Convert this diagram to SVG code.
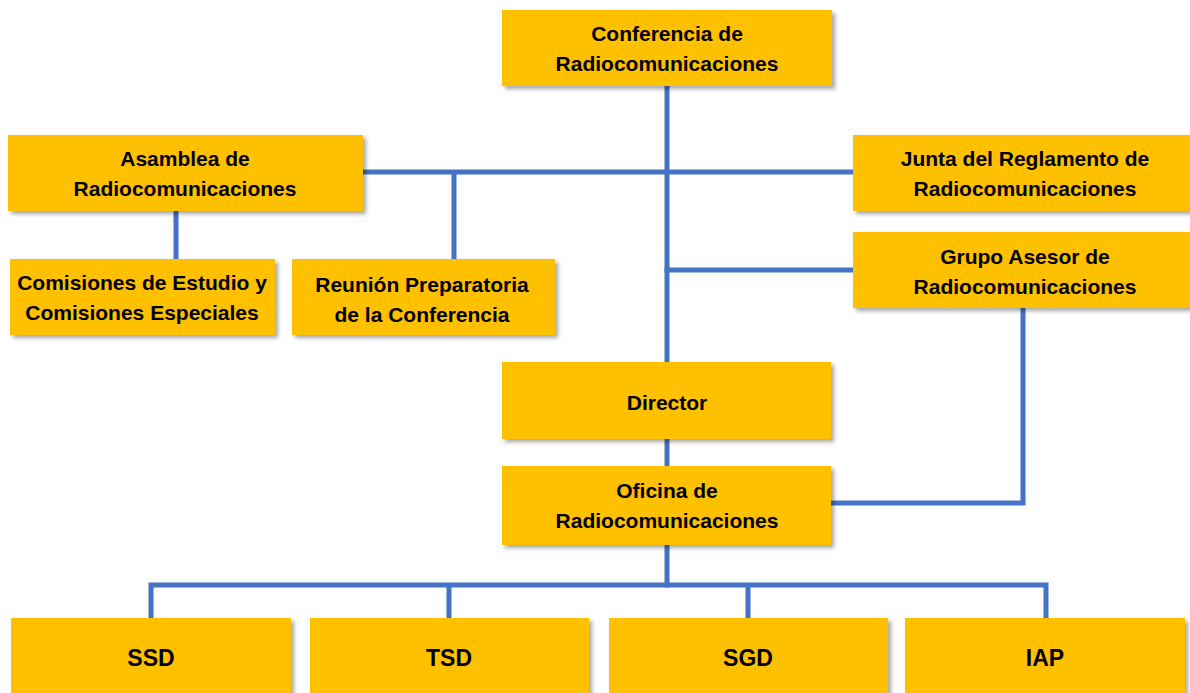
<svg xmlns="http://www.w3.org/2000/svg" width="1190" height="693" viewBox="0 0 1190 693">
<style>
.box{fill:#FFC000;filter:url(#sh)}
.t{font-family:"Liberation Sans",Arial,sans-serif;font-weight:bold;font-size:21px;fill:#000;text-anchor:middle}
.b{font-size:23px}
.c{stroke:#4472C4;stroke-width:5;fill:none;stroke-linecap:square}
</style>
<defs>
<filter id="sh" x="-5%" y="-10%" width="115%" height="130%">
<feDropShadow dx="3" dy="3" stdDeviation="2" flood-color="#000" flood-opacity="0.35"/>
</filter>
</defs>
<rect width="1190" height="693" fill="#fff"/>
<g id="connectors">
<path class="c" d="M667 86V362M667 439V466M667 545V585"/>
<path class="c" d="M363 172H853M454 172V259M176 211V259"/>
<path class="c" d="M667 270H853"/>
<path class="c" d="M1023 308V503H831"/>
<path class="c" d="M151 617V585H1046V617M449 585V617M748 585V617"/>
</g>
<g id="conferencia"><rect class="box" x="502" y="10" width="330" height="76"/>
<text class="t" x="667" y="41">Conferencia de</text><text class="t" x="667" y="71">Radiocomunicaciones</text></g>
<g id="asamblea"><rect class="box" x="8" y="135" width="355" height="76"/>
<text class="t" x="185" y="166">Asamblea de</text><text class="t" x="185" y="196">Radiocomunicaciones</text></g>
<g id="comisiones"><rect class="box" x="10" y="259" width="265" height="76"/>
<text class="t" x="142" y="290">Comisiones de Estudio y</text><text class="t" x="142" y="320">Comisiones Especiales</text></g>
<g id="reunion"><rect class="box" x="292" y="259" width="263" height="76"/>
<text class="t" x="422" y="292">Reunión Preparatoria</text><text class="t" x="422" y="322">de la Conferencia</text></g>
<g id="junta"><rect class="box" x="853" y="135" width="344" height="76"/>
<text class="t" x="1025" y="166">Junta del Reglamento de</text><text class="t" x="1025" y="196">Radiocomunicaciones</text></g>
<g id="grupo"><rect class="box" x="853" y="232" width="344" height="76"/>
<text class="t" x="1025" y="264">Grupo Asesor de</text><text class="t" x="1025" y="294">Radiocomunicaciones</text></g>
<g id="director"><rect class="box" x="502" y="362" width="329" height="77"/>
<text class="t" x="667" y="410">Director</text></g>
<g id="oficina"><rect class="box" x="502" y="466" width="329" height="79"/>
<text class="t" x="667" y="498">Oficina de</text><text class="t" x="667" y="528">Radiocomunicaciones</text></g>
<g id="ssd"><rect class="box" x="11" y="618" width="280" height="80"/><text class="t b" x="151" y="666">SSD</text></g>
<g id="tsd"><rect class="box" x="310" y="618" width="279" height="80"/><text class="t b" x="449" y="666">TSD</text></g>
<g id="sgd"><rect class="box" x="609" y="618" width="279" height="80"/><text class="t b" x="748" y="666">SGD</text></g>
<g id="iap"><rect class="box" x="905" y="618" width="280" height="80"/><text class="t b" x="1045" y="666">IAP</text></g>
</svg>
